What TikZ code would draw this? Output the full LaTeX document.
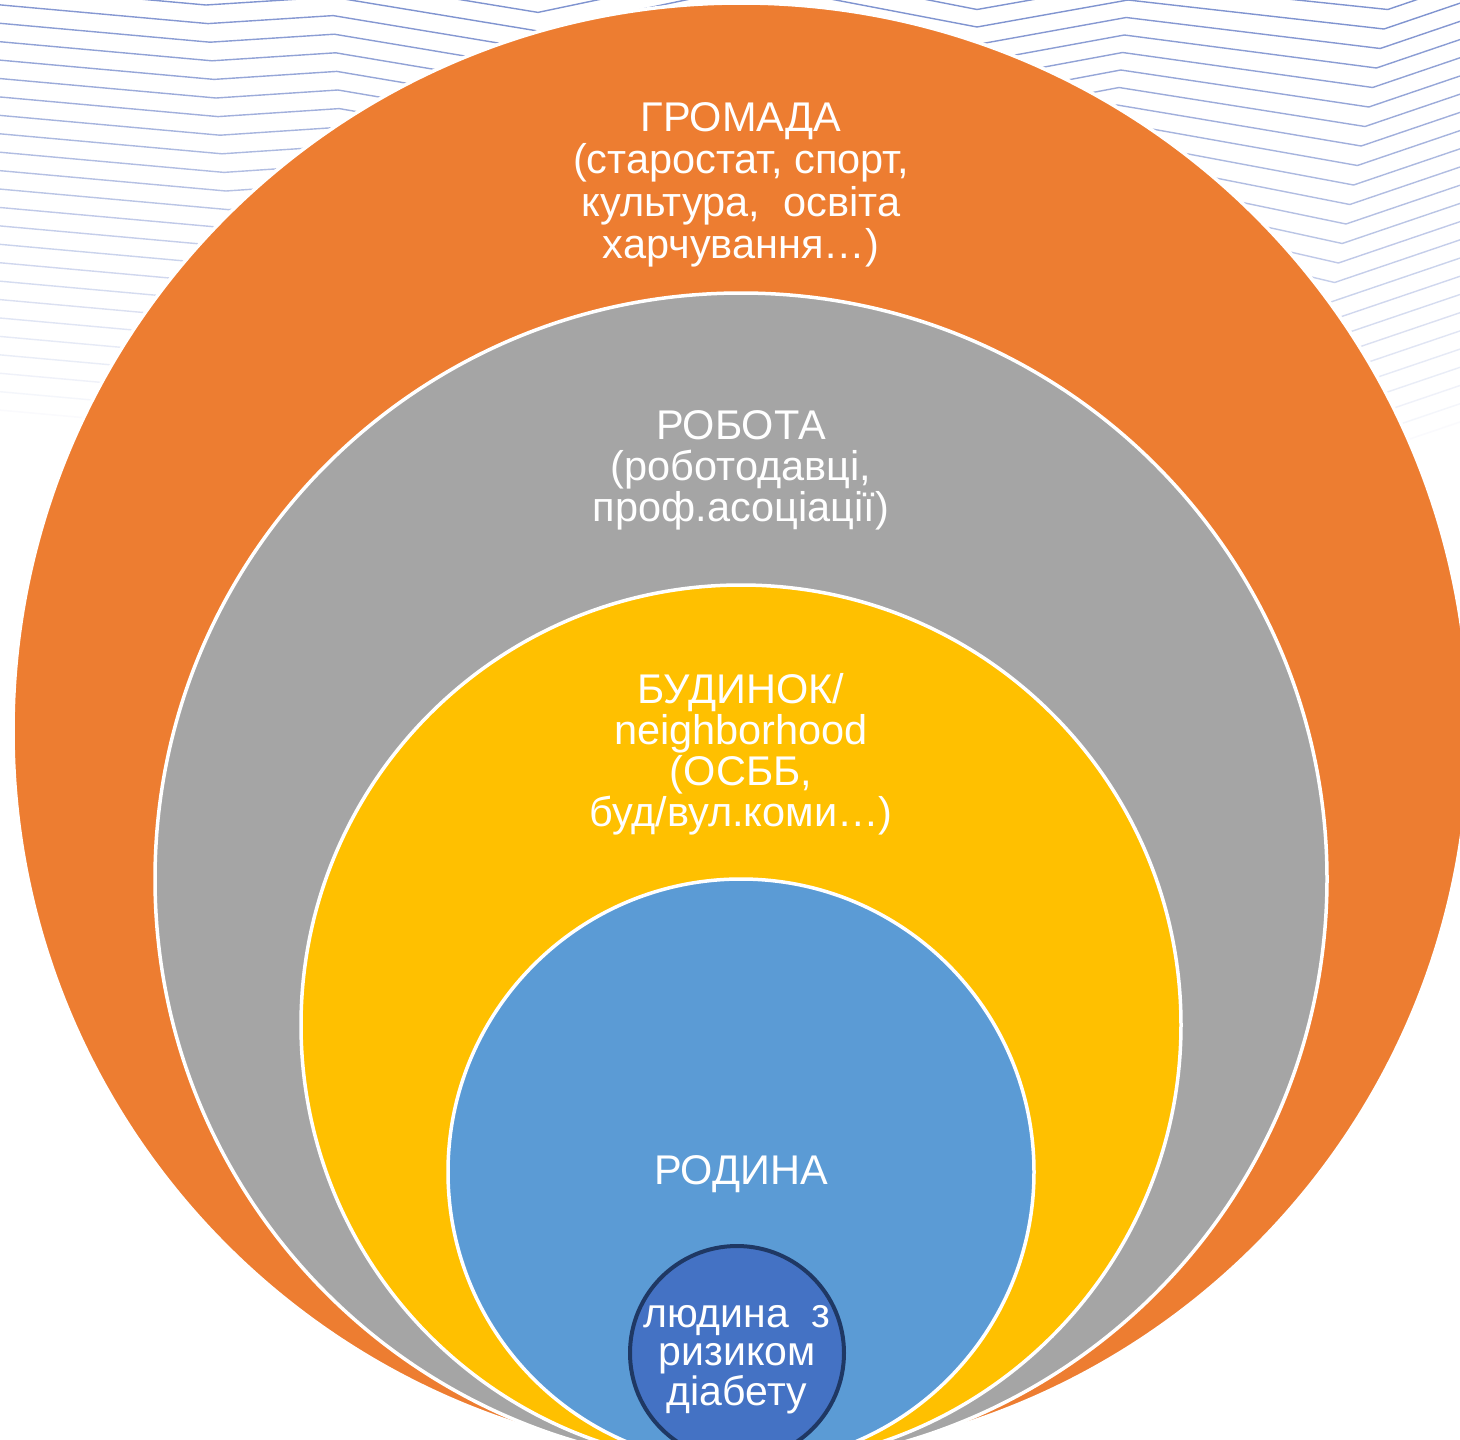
\documentclass[tikz,border=0pt]{standalone}
\usepackage{fontspec}
\setmainfont{Liberation Sans}
\definecolor{orng}{HTML}{ED7D31}
\definecolor{gry}{HTML}{A5A5A5}
\definecolor{yel}{HTML}{FFC000}
\definecolor{lblue}{HTML}{5B9BD5}
\definecolor{dblue}{HTML}{4472C4}
\definecolor{navy}{HTML}{1F3864}
\definecolor{lineblue}{HTML}{4A66BC}
\begin{document}
\begin{tikzpicture}[x=1pt,y=-1pt,
  ring/.style={circle, draw=white, line width=3.5pt, inner sep=0pt, outer sep=0pt},
  bgline/.style={line width=1.4pt, line join=miter},
  lbl/.style={text=white, align=center, anchor=base, inner sep=0pt, outer sep=0pt}]
\useasboundingbox (0,0) rectangle (1460,1440);
\clip (0,0) rectangle (1460,1440);
\fill[white] (0,0) rectangle (1460,1440);
% background chevron lines
\foreach \k in {-2,...,26}{
  \pgfmathsetmacro\ay{5+18.6*\k}
  \pgfmathsetmacro\ax{206+2*\k}
  \pgfmathsetmacro\bx{332+1.2*\k}
  \pgfmathsetmacro\fy{17.5*\k}
  \pgfmathsetmacro\fx{1128-1.8*\k}
  \pgfmathsetmacro\gx{1384-3.8*\k}
  \pgfmathsetmacro\gy{29+19.5*\k}
  \pgfmathtruncatemacro\pct{max(0,min(70,70-2.9*\k))}
  \draw[bgline, lineblue!\pct!white] (-10,{\ay-0.09*(\ax+10)}) -- (\ax,\ay) -- (\bx,{\ay-8}) -- (538,{\ay+26}) -- (757,{\ay-20}) -- (977,{\fy+27}) -- (\fx,\fy) -- (\gx,\gy) -- (1470,{\gy-0.34*(1470-\gx)});
}
% nested circles
\node[ring, fill=orng, minimum size=1456pt] (gromada) at (741,731) {};
\node[ring, fill=gry, minimum size=1172pt] (robota) at (741,879) {};
\node[ring, fill=yel, minimum size=880pt] (budynok) at (741,1025) {};
\node[ring, fill=lblue, minimum size=586pt] (rodyna) at (741,1172) {};
\node[circle, draw=navy, line width=4pt, fill=dblue, inner sep=0pt, outer sep=0pt, minimum size=214pt] (lyudyna) at (737,1353) {};
% labels (anchor=base is the baseline of the last line)
\node[lbl, font=\fontsize{41.5}{42.2}\selectfont] (tgromada) at (741,258.3) {ГРОМАДА\\(старостат, спорт,\\культура,\ \ освіта\\харчування…)};
\node[lbl, font=\fontsize{41.5}{41.2}\selectfont] (trobota) at (741,521.7) {РОБОТА\\(роботодавці,\\проф.асоціації)};
\node[lbl, font=\fontsize{41.5}{41.2}\selectfont] (tbudynok) at (741,826.9) {БУДИНОК/\\neighborhood\\(ОСББ,\\буд/вул.коми…)};
\node[lbl, font=\fontsize{41.5}{41}\selectfont] (trodyna) at (741,1184) {РОДИНА};
\node[lbl, font=\fontsize{41}{38.4}\selectfont] (tlyudyna) at (737,1405) {людина\ \ з\\ризиком\\діабету};
\end{tikzpicture}
\end{document}
